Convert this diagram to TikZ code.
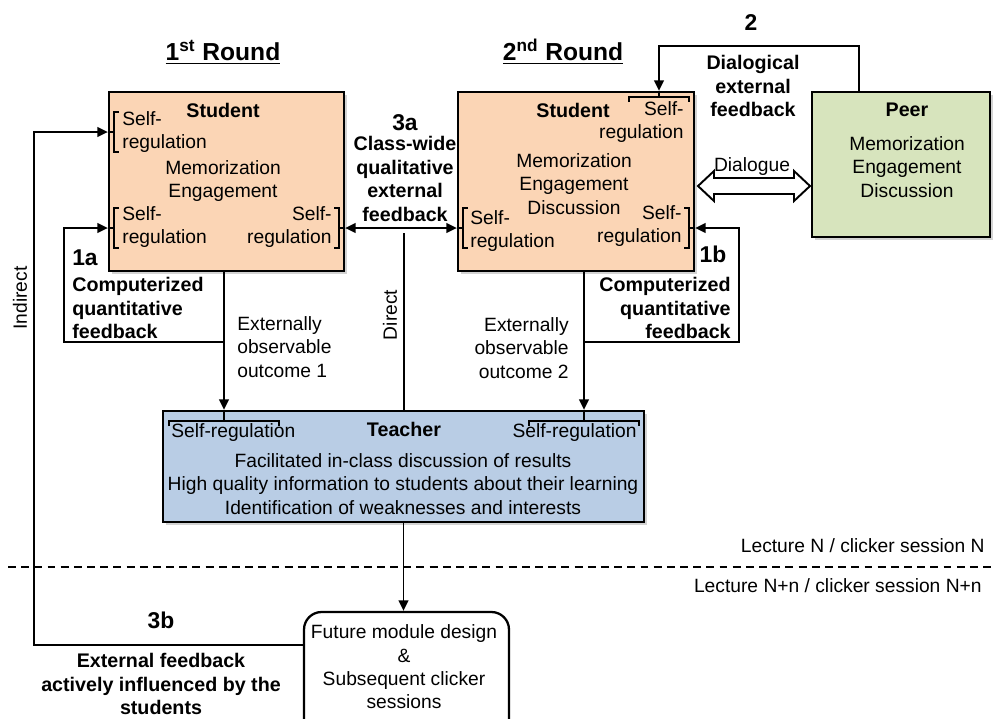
\documentclass[tikz,border=0pt]{standalone}
\usepackage{fontspec}
\setmainfont{Liberation Sans}
\usetikzlibrary{arrows.meta, positioning, shadows}

\definecolor{studfill}{HTML}{FBD5B5}
\definecolor{peerfill}{HTML}{D7E4BD}
\definecolor{teachfill}{HTML}{B9CDE5}

\tikzset{
  box/.style={draw, line width=1.3pt, inner sep=0pt,
    drop shadow={shadow xshift=1.8pt, shadow yshift=-1.8pt, opacity=0.35}},
  txt/.style={inner sep=0pt, font=\fontsize{10.95}{13.3}\selectfont},
  bld/.style={inner sep=0pt, font=\fontsize{11.2}{13.3}\selectfont\bfseries},
  num/.style={inner sep=0pt, font=\fontsize{13}{15}\selectfont\bfseries},
  ttl/.style={inner sep=0pt, font=\fontsize{14}{16}\selectfont\bfseries},
  conn/.style={line width=1.1pt},
  arr/.style={conn, -{Triangle[length=6pt, width=5.5pt]}},
  brk/.style={line width=1.1pt},
}

\begin{document}
\begin{tikzpicture}[x=0.02cm, y=-0.02cm]
  \clip (0,0) rectangle (995,718);

  % boxes
  \node[box, fill=studfill, minimum width=4.7cm, minimum height=3.58cm] (s1) at (226.5,181.5) {};
  \node[box, fill=studfill, minimum width=4.72cm, minimum height=3.58cm] (s2) at (576,181.5) {};
  \node[box, fill=peerfill, minimum width=3.56cm, minimum height=2.9cm] (peer) at (901,164.5) {};
  \node[box, fill=teachfill, minimum width=9.62cm, minimum height=2.22cm] (t) at (403.5,466.5) {};
  \node[draw, line width=1.3pt, rounded corners=0.35cm, fill=white, minimum width=4.1cm, minimum height=2.56cm] (fut) at (406.5,676) {};

  % bracket points
  \coordinate (s1ka) at (114,132);
  \coordinate (s1kb) at (114,228);
  \coordinate (s1kc) at (339,228);
  \coordinate (s2kt) at (659,97);
  \coordinate (s2kb) at (463,228);
  \coordinate (s2kc) at (689,228);
  \coordinate (tbl) at (224,421);
  \coordinate (tbr) at (584,421);

  \foreach \x/\y/\e in {114/132/109, 114/228/109, 463/228/458}
    \draw[brk] (\x+5,\y-20) -- (\x,\y-20) -- (\x,\y+20) -- (\x+5,\y+20) (\x,\y) -- (\e,\y);
  \foreach \x/\y/\e in {339/228/344, 689/228/694}
    \draw[brk] (\x-5,\y-20) -- (\x,\y-20) -- (\x,\y+20) -- (\x-5,\y+20) (\x,\y) -- (\e,\y);
  \foreach \x/\y/\w/\e in {659/97/30/92, 224/421/55/411, 584/421/55/411}
    \draw[brk] (\x-\w,\y+5) -- (\x-\w,\y) -- (\x+\w,\y) -- (\x+\w,\y+5) (\x,\y) -- (\x,\e);

  % student, round 1
  \node[bld] (s1name) at (223,110) {Student};
  \node[txt, anchor=west, align=left] (s1rega) at (122,132) {Self-\\regulation};
  \node[txt, align=center] (s1mem) at (223,181) {Memorization\\Engagement};
  \node[txt, anchor=west, align=left] (s1regb) at (122,227) {Self-\\regulation};
  \node[txt, anchor=east, align=right] (s1regc) at (332,227) {Self-\\regulation};

  % student, round 2
  \node[bld] (s2name) at (573,110) {Student};
  \node[txt, anchor=east, align=right] (s2rega) at (684,122) {Self-\\regulation};
  \node[txt, align=center] (s2mem) at (574,184) {Memorization\\Engagement\\Discussion};
  \node[txt, anchor=west, align=left] (s2regb) at (470,231) {Self-\\regulation};
  \node[txt, anchor=east, align=right] (s2regc) at (682,226) {Self-\\regulation};

  % peer
  \node[bld] (pname) at (907,110) {Peer};
  \node[txt, align=center] (pmem) at (907,167) {Memorization\\Engagement\\Discussion};

  % teacher
  \node[bld] (tname) at (404,429) {Teacher};
  \node[txt, anchor=west] (treg1) at (171,433) {Self-regulation};
  \node[txt, anchor=east] (treg2) at (637,433) {Self-regulation};
  \node[txt, align=center] (tbody) at (403,484) {Facilitated in-class discussion of results\\High quality information to students about their learning\\Identification of weaknesses and interests};

  % next lecture
  \node[txt, align=center] (ftxt) at (404,667) {Future module design\\\&\\Subsequent clicker\\sessions};

  % titles and labels
  \node[ttl] (r1) at (223,52) {\underline{1\textsuperscript{st} Round}};
  \node[ttl] (r2) at (563,52) {\underline{2\textsuperscript{nd} Round}};
  \node[num] (n2) at (751,23) {2};
  \node[bld, align=center] (l2) at (753,86) {Dialogical\\external\\feedback};
  \node[num] (n3a) at (405,123) {3a};
  \node[bld, align=center] (l3a) at (405,179) {Class-wide\\qualitative\\external\\feedback};
  \node[num] (n1a) at (85,258) {1a};
  \node[bld, anchor=west, align=left] (l1a) at (72,308) {Computerized\\quantitative\\feedback};
  \node[num] (n1b) at (713,254) {1b};
  \node[bld, anchor=east, align=right] (l1b) at (731,308) {Computerized\\quantitative\\feedback};
  \node[txt, anchor=west, align=left] (o1) at (237,347) {Externally\\observable\\outcome 1};
  \node[txt, anchor=east, align=right] (o2) at (569,348) {Externally\\observable\\outcome 2};
  \node[txt, rotate=90] (ldir) at (390,315) {Direct};
  \node[txt, rotate=90] (lind) at (20,298) {Indirect};
  \node[txt] (ldlg) at (752,167) {Dialogue};
  \node[txt, anchor=east] (lecn) at (985,546) {Lecture N / clicker session N};
  \node[txt, anchor=east] (lecnn) at (982,586) {Lecture N+n / clicker session N+n};
  \node[num] (n3b) at (161,620) {3b};
  \node[bld, align=center] (l3b) at (161,684) {External feedback\\actively influenced by the\\students};

  % session divider
  \draw[line width=1.2pt, dash pattern=on 4.5pt off 3pt] (8,567) -- (995,567);

  % dialogue arrow
  \draw[line width=1.1pt, fill=white] (698,186) -- (714,171) -- (714,178) -- (794,178) -- (794,171)
    -- (810,186) -- (794,201) -- (794,194) -- (714,194) -- (714,201) -- cycle;

  % connectors
  \coordinate (pout) at (859,92);
  \coordinate (futin) at (304,645);
  \coordinate (dtop) at (404,233);
  \draw[arr] (pout) |- (659,46) -- (s2kt |- s2.north);
  \draw[arr] (tbl |- s1.south) |- (64,342) |- (s1.west |- s1kb);
  \draw[arr] (tbl |- s1.south) -- (tbl |- t.north);
  \draw[arr] (tbr |- s2.south) |- (739,342) |- (s2.east |- s2kc);
  \draw[arr] (tbr |- s2.south) -- (tbr |- t.north);
  \draw[conn, {Triangle[length=6pt, width=5.5pt]}-{Triangle[length=6pt, width=5.5pt]}] (s1.east |- s1kc) -- (s2.west |- s2kb);
  \draw[conn] (dtop) -- (dtop |- t.north);
  \draw[arr] (t.south) -- (t.south |- fut.north);
  \draw[arr] (futin) -- (34,645) |- (s1.west |- s1ka);
\end{tikzpicture}
\end{document}
